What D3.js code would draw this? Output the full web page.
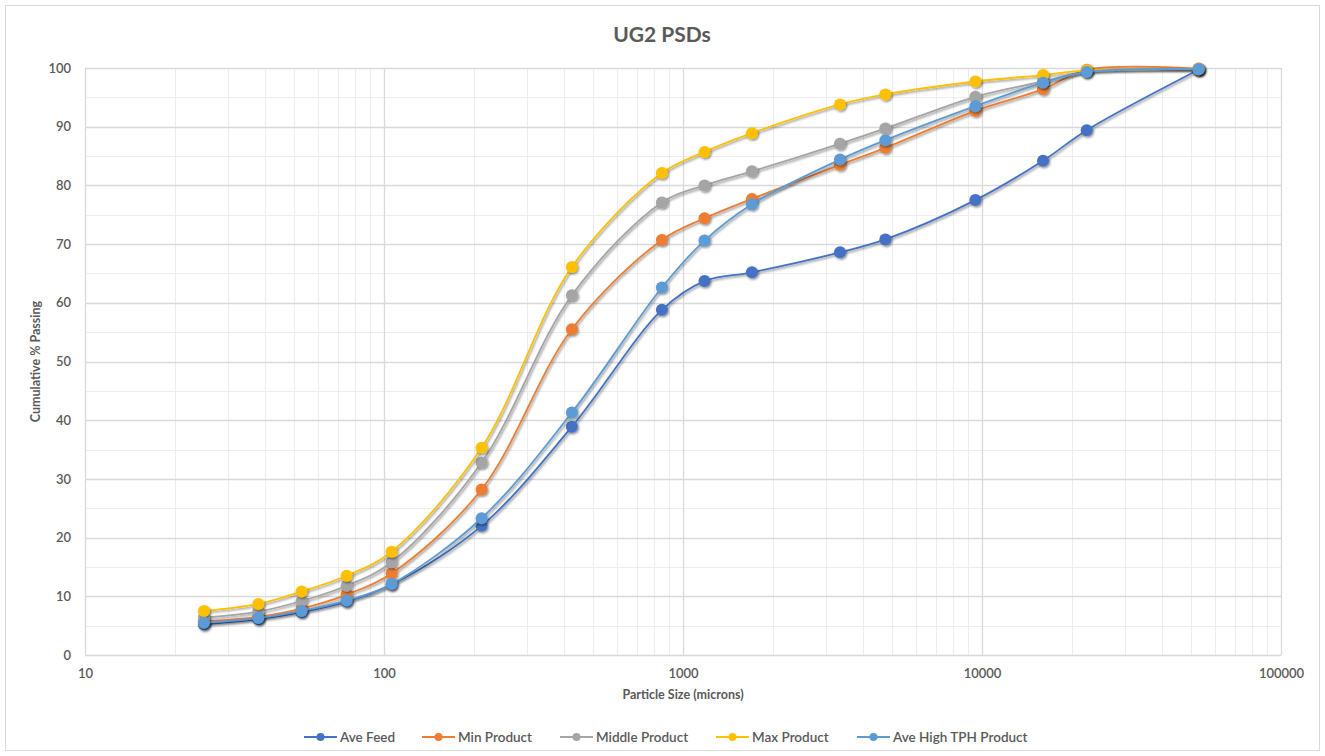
<!DOCTYPE html>
<html>
<head>
<meta charset="utf-8">
<script src="https://cdn.jsdelivr.net/npm/d3@7"></script>
<style>
  html, body { margin: 0; padding: 0; background: #fff; }
  svg { display: block; font-family: Lato, "Open Sans", sans-serif; }
</style>
</head>
<body>
<svg id="chart" width="1325" height="756"></svg>
<script>
// ---- data ----
const sizes = [25, 38, 53, 75, 106, 212, 425, 850, 1180, 1700, 3350, 4750, 9500, 16000, 22400, 53000];
const aveFeed = [5.2, 6.1, 7.3, 9.1, 12.0, 22.0, 38.9, 58.8, 63.7, 65.2, 68.6, 70.8, 77.5, 84.2, 89.4, 99.7];
const minProduct = [5.7, 6.5, 7.9, 10.3, 13.9, 28.2, 55.5, 70.7, 74.4, 77.7, 83.5, 86.4, 92.7, 96.4, 99.7, 99.9];
const middleProduct = [6.4, 7.4, 9.2, 11.8, 15.8, 32.8, 61.3, 77.1, 80.0, 82.4, 87.1, 89.7, 95.1, 97.7, 99.4, 99.8];
const maxProduct = [7.5, 8.7, 10.8, 13.5, 17.6, 35.3, 66.1, 82.1, 85.7, 88.9, 93.8, 95.5, 97.7, 98.8, 99.6, 99.8];
const aveHighTPH = [5.5, 6.3, 7.5, 9.3, 12.1, 23.3, 41.3, 62.6, 70.6, 76.8, 84.4, 87.7, 93.5, 97.5, 99.3, 99.8];
const seriesNames = ["Ave Feed", "Min Product", "Middle Product", "Max Product", "Ave High TPH Product"];
const seriesValues = [aveFeed, minProduct, middleProduct, maxProduct, aveHighTPH];
const colors = ["#4472C4", "#ED7D31", "#A5A5A5", "#FFC000", "#5B9BD5"];
const xTicks = [10, 100, 1000, 10000, 100000];
const yTicks = [0, 10, 20, 30, 40, 50, 60, 70, 80, 90, 100];

// ---- layout ----
const svg = d3.select("#chart");
const L = 85, R = 1281, T = 68, B = 655;
const x = d3.scaleLog().domain([10, 100000]).range([L, R]);
const y = d3.scaleLinear().domain([0, 100]).range([B, T]);
const textCol = "#595959";

// outer border
svg.append("rect").attr("x", 5.5).attr("y", 5.5).attr("width", 1314).attr("height", 745)
  .attr("fill", "#fff").attr("stroke", "#D9D9D9").attr("stroke-width", 1);

// defs: shadow
const defs = svg.append("defs");
const f = defs.append("filter").attr("id", "shadow").attr("x", "-50%").attr("y", "-50%").attr("width", "200%").attr("height", "200%");
f.append("feDropShadow").attr("dx", 1.2).attr("dy", 1.5).attr("stdDeviation", 1.2)
  .attr("flood-color", "#000").attr("flood-opacity", 0.45);

// grid
const g = svg.append("g");
const minorX = [];
for (let d = 10; d < 100000; d *= 10) for (let k = 2; k <= 9; k++) minorX.push(d * k);
g.selectAll(".mx").data(minorX).enter().append("line")
  .attr("x1", d => Math.round(x(d)) + 0.5).attr("x2", d => Math.round(x(d)) + 0.5)
  .attr("y1", T).attr("y2", B).attr("stroke", "#EDEDED").attr("stroke-width", 1);
const minorY = d3.range(5, 100, 10);
g.selectAll(".my").data(minorY).enter().append("line")
  .attr("x1", L).attr("x2", R)
  .attr("y1", d => Math.round(y(d)) + 0.5).attr("y2", d => Math.round(y(d)) + 0.5)
  .attr("stroke", "#EDEDED").attr("stroke-width", 1);
g.selectAll(".Mx").data(xTicks).enter().append("line")
  .attr("x1", d => Math.round(x(d)) + 0.5).attr("x2", d => Math.round(x(d)) + 0.5)
  .attr("y1", T).attr("y2", B).attr("stroke", "#D9D9D9").attr("stroke-width", 1.3);
g.selectAll(".My").data(yTicks).enter().append("line")
  .attr("x1", L).attr("x2", R)
  .attr("y1", d => Math.round(y(d)) + 0.5).attr("y2", d => Math.round(y(d)) + 0.5)
  .attr("stroke", "#D9D9D9").attr("stroke-width", 1.3);

// axes labels via d3 axes
const xAxis = svg.append("g").attr("transform", `translate(0,${B})`)
  .call(d3.axisBottom(x).tickValues(xTicks).tickFormat(d3.format("d")).tickSize(0).tickPadding(14));
xAxis.select(".domain").remove();
xAxis.selectAll("text").attr("fill", textCol).attr("font-size", 13).attr("font-weight", 600).style("font-family", "Lato, sans-serif");

const yAxis = svg.append("g").attr("transform", `translate(${L},0)`)
  .call(d3.axisLeft(y).tickValues(yTicks).tickSize(0).tickPadding(14));
yAxis.select(".domain").remove();
yAxis.selectAll("text").attr("fill", textCol).attr("font-size", 13).attr("font-weight", 600).style("font-family", "Lato, sans-serif");

// titles
svg.append("text").attr("x", 662).attr("y", 42).attr("text-anchor", "middle")
  .attr("fill", textCol).attr("font-size", 21).attr("font-weight", 700).text("UG2 PSDs");
svg.append("text").attr("x", 683).attr("y", 699).attr("text-anchor", "middle")
  .attr("fill", textCol).attr("font-size", 12.5).attr("font-weight", 700).text("Particle Size (microns)");
svg.append("text").attr("transform", `translate(40,${(T + B) / 2}) rotate(-90)`).attr("text-anchor", "middle")
  .attr("fill", textCol).attr("font-size", 12.5).attr("font-weight", 700).text("Cumulative % Passing");

// series
const line = d3.line().x(d => x(d[0])).y(d => y(d[1])).curve(d3.curveCatmullRom.alpha(0.5));
seriesValues.forEach((vals, i) => {
  const pts = sizes.map((s, j) => [s, vals[j]]);
  const sg = svg.append("g");
  sg.append("path").datum(pts).attr("d", line).attr("fill", "none")
    .attr("stroke", colors[i]).attr("stroke-width", 1.8).attr("filter", "url(#shadow)");
  sg.selectAll("circle").data(pts).enter().append("circle")
    .attr("cx", d => x(d[0])).attr("cy", d => y(d[1])).attr("r", 6)
    .attr("fill", colors[i]).attr("filter", "url(#shadow)");
});

// legend
const legendX = [304, 422, 560, 716, 857];
const lg = svg.append("g");
seriesNames.forEach((name, i) => {
  const gx = legendX[i], gy = 737;
  lg.append("line").attr("x1", gx).attr("x2", gx + 33).attr("y1", gy).attr("y2", gy)
    .attr("stroke", colors[i]).attr("stroke-width", 1.8);
  lg.append("circle").attr("cx", gx + 16.5).attr("cy", gy).attr("r", 4).attr("fill", colors[i]);
  lg.append("text").attr("x", gx + 36).attr("y", gy + 4.5).attr("fill", textCol)
    .attr("font-size", 13.5).attr("font-weight", 600).text(name);
});
</script>
</body>
</html>
